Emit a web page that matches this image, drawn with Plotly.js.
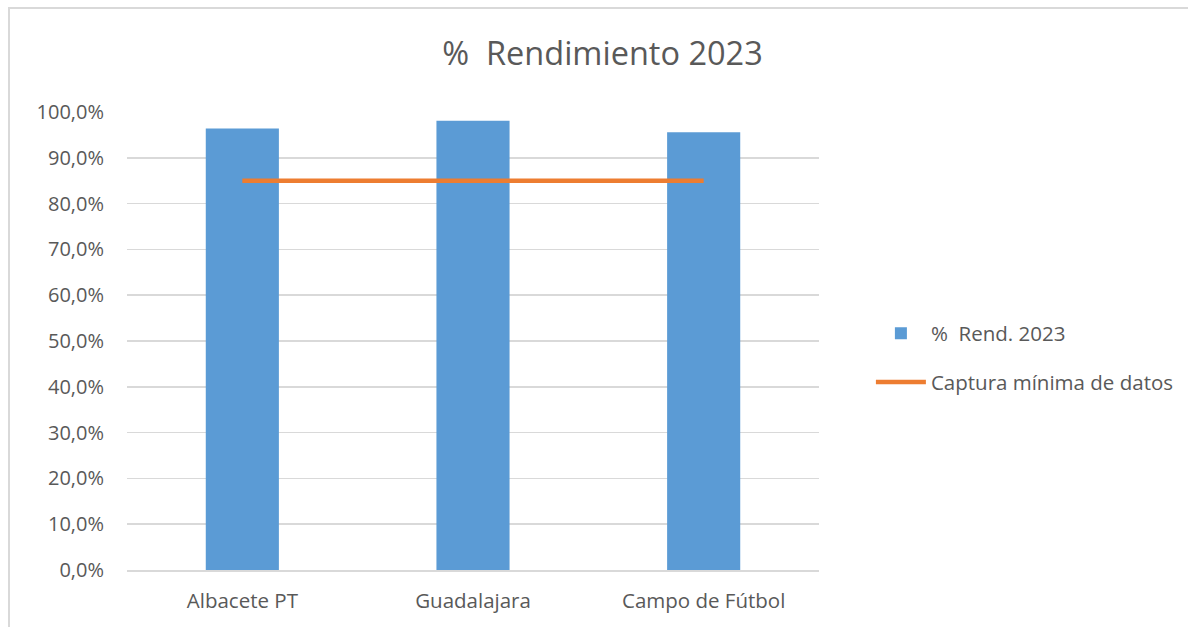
<!DOCTYPE html>
<html><head><meta charset="utf-8">
<script src="https://cdn.plot.ly/plotly-3.0.1.min.js"></script>
<style>
html,body{margin:0;padding:0;background:#fff;overflow:hidden;}
#wrap{position:absolute;left:8px;top:7px;width:1185px;height:625px;border-left:2px solid #d9d9d9;border-top:2px solid #d9d9d9;}
#chart{width:1185px;height:625px;}
</style></head>
<body><div id="wrap"><div id="chart"></div></div>
<script>
const categories = ["Albacete PT", "Guadalajara", "Campo de Fútbol"];
const rendimiento = [96.4, 98.1, 95.6];
const capturaMinima = [85, 85, 85];
const seriesNames = ["%\u00a0 Rend. 2023", "Captura mínima de datos"];
const chartTitle = "%\u00a0 Rendimiento 2023";

const txt = '#595959';
const fontFam = '"Open Sans", "Noto Sans", sans-serif';

const traces = [
  {type:'bar', x:categories, y:rendimiento, name:seriesNames[0], legendgroup:'a',
   marker:{color:'#5B9BD5'}, hoverinfo:'skip'},
  {type:'scatter', mode:'lines', x:categories, y:capturaMinima, name:seriesNames[1], legendgroup:'b',
   line:{color:'#ED7D31', width:4.5}, hoverinfo:'skip'}
];

const layout = {
  width:1185, height:625,
  margin:{l:117, r:376, t:103, b:64},
  paper_bgcolor:'#fff', plot_bgcolor:'#fff',
  separators:',.',
  font:{family:fontFam, color:txt, size:17},
  title:{text:chartTitle, x:0.5, xref:'container', xanchor:'center', y:0.929, yref:'container', yanchor:'middle',
         font:{size:32.5, color:txt, family:fontFam}},
  bargap:0.683,
  showlegend:true,
  legend:{x:1.075, xanchor:'left', y:0.463, yanchor:'middle', traceorder:'grouped', tracegroupgap:19,
          font:{size:20.5, color:txt}, itemwidth:50, bgcolor:'rgba(0,0,0,0)'},
  xaxis:{type:'category', showgrid:false, showline:true, linecolor:'#d9d9d9', linewidth:1.5,
         ticks:'', ticklabelstandoff:12, tickfont:{size:20.5, color:txt}, fixedrange:true},
  yaxis:{range:[0,100], dtick:10, tick0:0, tickformat:'.1f', ticksuffix:'%', showgrid:true,
         gridcolor:'#d9d9d9', gridwidth:1.5, zeroline:false, showline:false, ticks:'',
         ticklabelstandoff:22, tickfont:{size:20, color:txt}, fixedrange:true}
};

Plotly.newPlot('chart', traces, layout, {displayModeBar:false, staticPlot:true});
</script>
</body></html>
